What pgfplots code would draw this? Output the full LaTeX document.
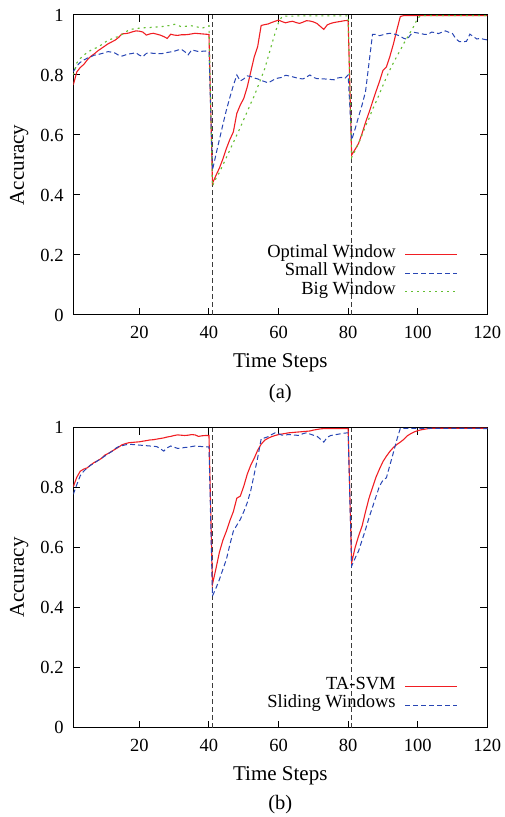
\documentclass[border=0pt]{standalone}
\usepackage{fontspec}
\setmainfont{Liberation Serif}
\usepackage{pgfplots}
\pgfplotsset{compat=1.18}
\definecolor{cred}{RGB}{240,30,35}
\definecolor{cblue}{RGB}{40,70,180}
\definecolor{cgreen}{RGB}{100,190,50}
\definecolor{cgray}{RGB}{60,60,60}
\newcommand\fs{\fontsize{18.5bp}{22bp}\selectfont}
\newcommand\fl{\fontsize{21bp}{25bp}\selectfont}
\newcommand\fc{\fontsize{20.5bp}{24bp}\selectfont}
\tikzset{
  pred/.style={draw=cred, color=cred, line width=1.1bp, solid},
  pblue/.style={draw=cblue, color=cblue, line width=1bp, dash pattern=on 5bp off 3bp},
  pgreen/.style={draw=cgreen, color=cgreen, line width=1.1bp, dash pattern=on 2bp off 4bp},
  pvline/.style={draw=cgray, line width=0.9bp, dash pattern=on 5bp off 3bp},
}
\pgfplotsset{
  gp/.style={
    scale only axis, width=414bp, height=300bp,
    xmin=1, xmax=120, ymin=0, ymax=1,
    xtick={20,40,60,80,100,120},
    ytick={0,0.2,0.4,0.6,0.8,1},
    tick align=inside, xtick pos=both, ytick pos=both,
    major tick length=7bp,
    axis line style={line width=1bp},
    every tick/.style={black, line width=1bp},
    /pgf/number format/assume math mode=true,
    tick label style={font=\fs},
    xticklabel style={inner sep=0pt, yshift=-11bp},
    yticklabel style={inner sep=0pt, xshift=-9.5bp},
    every axis x label/.style={at={(axis description cs:0.5,0)}, anchor=base, yshift=-52.5bp, inner sep=0pt, font=\fl},
    every axis y label/.style={at={(axis description cs:0,0.5)}, xshift=-49.3bp, rotate=90, anchor=base, inner sep=0pt, font=\fl},
    xlabel={Time Steps}, ylabel={Accuracy},
    legend plot pos=right,
    legend cell align=right,
    legend image code/.code={\draw[#1] (0bp,0bp) -- (52bp,0bp);},
    legend style={draw=none, fill=none, inner sep=0pt, font=\fs,
      nodes={inner sep=0pt, text height=12bp, text depth=6.5bp},
      column sep=9bp, row sep=0pt},
  },
}
\begin{document}
\begin{tikzpicture}
\useasboundingbox (0,0) rectangle (505bp,817bp);
\begin{axis}[gp, name=top, at={(73.3bp,502bp)}, anchor=south west,
  legend style={at={(rel axis cs:0.929,0.233)}, anchor=north east}]
\addplot[pvline, forget plot] coordinates {(41,0) (41,1)};
\addplot[pvline, forget plot] coordinates {(81,0) (81,1)};
\addplot[pred] coordinates {
(1,0.767)(2,0.81)(3,0.825)(4,0.835)(5,0.85)(6,0.862)(7,0.87)(8,0.88)(9,0.888)(10,0.896)
(11,0.904)(12,0.91)(13,0.916)(14,0.925)(15,0.937)(16,0.938)(17,0.94)(18,0.944)(19,0.947)(20,0.946)
(21,0.943)(22,0.933)(23,0.937)(24,0.939)(25,0.936)(26,0.933)(27,0.928)(28,0.922)(29,0.936)(30,0.933)
(31,0.932)(32,0.934)(33,0.934)(34,0.935)(35,0.937)(36,0.939)(37,0.938)(38,0.937)(39,0.936)(40,0.935)
(41,0.439)(42,0.465)(43,0.49)(44,0.52)(45,0.555)(46,0.585)(47,0.61)(48,0.672)(49,0.7)(50,0.722)
(51,0.76)(52,0.81)(53,0.86)(54,0.895)(55,0.965)(56,0.968)(57,0.97)(58,0.975)(59,0.979)(60,0.983)
(61,0.978)(62,0.974)(63,0.977)(64,0.979)(65,0.975)(66,0.972)(67,0.976)(68,0.981)(69,0.98)(70,0.977)
(71,0.972)(72,0.962)(73,0.952)(74,0.967)(75,0.972)(76,0.975)(77,0.977)(78,0.979)(79,0.981)(80,0.982)
(81,0.533)(82,0.552)(83,0.572)(84,0.605)(85,0.642)(86,0.675)(87,0.71)(88,0.745)(89,0.778)(90,0.815)
(91,0.827)(92,0.862)(93,0.903)(94,0.95)(95,0.995)(96,0.998)(97,0.998)(98,0.998)(99,0.998)(100,0.998)
(101,0.998)(102,0.998)(103,0.998)(104,0.998)(105,0.998)(106,0.998)(107,0.998)(108,0.998)(109,0.998)(110,0.998)
(111,0.998)(112,0.998)(113,0.998)(114,0.998)(115,0.998)(116,0.998)(117,0.998)(118,0.998)(119,0.998)(120,0.998)};
\addlegendentry{Optimal Window}
\addplot[pblue] coordinates {
(1,0.811)(2,0.83)(3,0.842)(4,0.85)(5,0.856)(6,0.86)(7,0.866)(8,0.868)(9,0.871)(10,0.874)
(11,0.878)(12,0.876)(13,0.873)(14,0.866)(15,0.863)(16,0.867)(17,0.87)(18,0.872)(19,0.874)(20,0.866)
(21,0.861)(22,0.872)(23,0.874)(24,0.872)(25,0.872)(26,0.871)(27,0.872)(28,0.875)(29,0.877)(30,0.879)
(31,0.883)(32,0.886)(33,0.878)(34,0.867)(35,0.883)(36,0.881)(37,0.878)(38,0.879)(39,0.88)(40,0.878)
(41,0.483)(42,0.535)(43,0.585)(44,0.635)(45,0.683)(46,0.725)(47,0.765)(48,0.8)(49,0.78)(50,0.787)
(51,0.797)(52,0.795)(53,0.79)(54,0.787)(55,0.782)(56,0.778)(57,0.774)(58,0.78)(59,0.787)(60,0.79)
(61,0.792)(62,0.799)(63,0.797)(64,0.794)(65,0.791)(66,0.788)(67,0.787)(68,0.793)(69,0.8)(70,0.792)
(71,0.788)(72,0.787)(73,0.787)(74,0.786)(75,0.785)(76,0.784)(77,0.79)(78,0.792)(79,0.788)(80,0.8)
(81,0.583)(82,0.62)(83,0.661)(84,0.7)(85,0.745)(86,0.84)(87,0.935)(88,0.935)(89,0.931)(90,0.934)
(91,0.937)(92,0.939)(93,0.937)(94,0.934)(95,0.929)(96,0.922)(97,0.919)(98,0.935)(99,0.942)(100,0.94)
(101,0.938)(102,0.935)(103,0.936)(104,0.943)(105,0.941)(106,0.938)(107,0.943)(108,0.947)(109,0.942)(110,0.938)
(111,0.92)(112,0.911)(113,0.911)(114,0.912)(115,0.936)(116,0.928)(117,0.92)(118,0.922)(119,0.919)(120,0.917)};
\addlegendentry{Small Window}
\addplot[pgreen] coordinates {
(1,0.8)(2,0.84)(3,0.855)(4,0.866)(5,0.875)(6,0.882)(7,0.888)(8,0.892)(9,0.9)(10,0.908)
(11,0.916)(12,0.92)(13,0.925)(14,0.928)(15,0.935)(16,0.943)(17,0.95)(18,0.953)(19,0.955)(20,0.956)
(21,0.957)(22,0.958)(23,0.958)(24,0.96)(25,0.96)(26,0.961)(27,0.962)(28,0.964)(29,0.965)(30,0.969)
(31,0.966)(32,0.961)(33,0.962)(34,0.963)(35,0.964)(36,0.962)(37,0.959)(38,0.956)(39,0.96)(40,0.964)
(41,0.43)(42,0.455)(43,0.475)(44,0.5)(45,0.525)(46,0.55)(47,0.575)(48,0.6)(49,0.625)(50,0.652)
(51,0.678)(52,0.705)(53,0.73)(54,0.76)(55,0.79)(56,0.82)(57,0.86)(58,0.9)(59,0.94)(60,0.975)
(61,0.995)(62,0.996)(63,0.996)(64,0.996)(65,0.997)(66,0.997)(67,0.997)(68,0.997)(69,0.997)(70,0.997)
(71,0.997)(72,0.997)(73,0.997)(74,0.997)(75,0.997)(76,0.997)(77,0.997)(78,0.997)(79,0.997)(80,0.997)
(81,0.525)(82,0.548)(83,0.572)(84,0.6)(85,0.63)(86,0.655)(87,0.685)(88,0.71)(89,0.737)(90,0.765)
(91,0.792)(92,0.817)(93,0.84)(94,0.862)(95,0.883)(96,0.905)(97,0.925)(98,0.945)(99,0.965)(100,0.99)
(101,0.998)(102,0.998)(103,0.998)(104,0.998)(105,0.998)(106,0.998)(107,0.998)(108,0.998)(109,0.998)(110,0.998)
(111,0.998)(112,0.998)(113,0.998)(114,0.998)(115,0.998)(116,0.998)(117,0.998)(118,0.998)(119,0.998)(120,0.998)};
\addlegendentry{Big Window}
\end{axis}
\node[anchor=base, font=\fc, inner sep=0pt] at ([yshift=-84bp]top.south) {(a)};
\begin{axis}[gp, name=bot, at={(73.3bp,89.3bp)}, anchor=south west,
  legend style={at={(rel axis cs:0.929,0.168)}, anchor=north east}]
\addplot[pvline, forget plot] coordinates {(41,0) (41,1)};
\addplot[pvline, forget plot] coordinates {(81,0) (81,1)};
\addplot[pred] coordinates {
(1,0.803)(2,0.835)(3,0.855)(4,0.862)(5,0.866)(6,0.876)(7,0.884)(8,0.89)(9,0.897)(10,0.908)
(11,0.914)(12,0.921)(13,0.928)(14,0.935)(15,0.943)(16,0.947)(17,0.95)(18,0.951)(19,0.952)(20,0.953)
(21,0.955)(22,0.957)(23,0.959)(24,0.96)(25,0.962)(26,0.964)(27,0.966)(28,0.969)(29,0.971)(30,0.974)
(31,0.976)(32,0.975)(33,0.974)(34,0.975)(35,0.977)(36,0.976)(37,0.971)(38,0.973)(39,0.974)(40,0.974)
(41,0.478)(42,0.53)(43,0.585)(44,0.625)(45,0.655)(46,0.69)(47,0.72)(48,0.765)(49,0.772)(50,0.805)
(51,0.845)(52,0.875)(53,0.898)(54,0.925)(55,0.945)(56,0.958)(57,0.965)(58,0.97)(59,0.974)(60,0.977)
(61,0.979)(62,0.981)(63,0.983)(64,0.984)(65,0.985)(66,0.986)(67,0.987)(68,0.988)(69,0.989)(70,0.992)
(71,0.994)(72,0.996)(73,0.997)(74,0.997)(75,0.997)(76,0.997)(77,0.997)(78,0.997)(79,0.997)(80,0.997)
(81,0.55)(82,0.6)(83,0.639)(84,0.672)(85,0.72)(86,0.765)(87,0.8)(88,0.835)(89,0.862)(90,0.887)
(91,0.905)(92,0.921)(93,0.934)(94,0.944)(95,0.952)(96,0.961)(97,0.973)(98,0.98)(99,0.986)(100,0.99)
(101,0.993)(102,0.995)(103,0.997)(104,0.998)(105,0.998)(106,0.998)(107,0.998)(108,0.998)(109,0.998)(110,0.998)
(111,0.998)(112,0.998)(113,0.998)(114,0.998)(115,0.998)(116,0.998)(117,0.998)(118,0.998)(119,0.998)(120,0.998)};
\addlegendentry{TA-SVM}
\addplot[pblue] coordinates {
(1,0.778)(2,0.81)(3,0.84)(4,0.855)(5,0.866)(6,0.875)(7,0.882)(8,0.89)(9,0.897)(10,0.905)
(11,0.913)(12,0.92)(13,0.93)(14,0.937)(15,0.94)(16,0.943)(17,0.944)(18,0.944)(19,0.943)(20,0.942)
(21,0.941)(22,0.94)(23,0.939)(24,0.938)(25,0.937)(26,0.93)(27,0.922)(28,0.933)(29,0.939)(30,0.935)
(31,0.931)(32,0.932)(33,0.934)(34,0.935)(35,0.937)(36,0.939)(37,0.938)(38,0.937)(39,0.936)(40,0.936)
(41,0.439)(42,0.465)(43,0.494)(44,0.528)(45,0.561)(46,0.61)(47,0.655)(48,0.675)(49,0.694)(50,0.72)
(51,0.75)(52,0.79)(53,0.845)(54,0.9)(55,0.963)(56,0.966)(57,0.97)(58,0.977)(59,0.983)(60,0.98)
(61,0.975)(62,0.976)(63,0.977)(64,0.976)(65,0.975)(66,0.974)(67,0.98)(68,0.983)(69,0.979)(70,0.975)
(71,0.972)(72,0.962)(73,0.952)(74,0.968)(75,0.974)(76,0.976)(77,0.978)(78,0.98)(79,0.982)(80,0.983)
(81,0.539)(82,0.565)(83,0.589)(84,0.625)(85,0.661)(86,0.7)(87,0.735)(88,0.77)(89,0.805)(90,0.825)
(91,0.833)(92,0.875)(93,0.917)(94,0.96)(95,0.998)(96,0.998)(97,0.998)(98,0.998)(99,0.998)(100,0.998)
(101,0.998)(102,0.998)(103,0.998)(104,0.998)(105,0.998)(106,0.998)(107,0.998)(108,0.998)(109,0.998)(110,0.998)
(111,0.998)(112,0.998)(113,0.998)(114,0.998)(115,0.998)(116,0.998)(117,0.998)(118,0.998)(119,0.997)(120,0.997)};
\addlegendentry{Sliding Windows}
\end{axis}
\node[anchor=base, font=\fc, inner sep=0pt] at ([yshift=-82bp]bot.south) {(b)};
\end{tikzpicture}
\end{document}
